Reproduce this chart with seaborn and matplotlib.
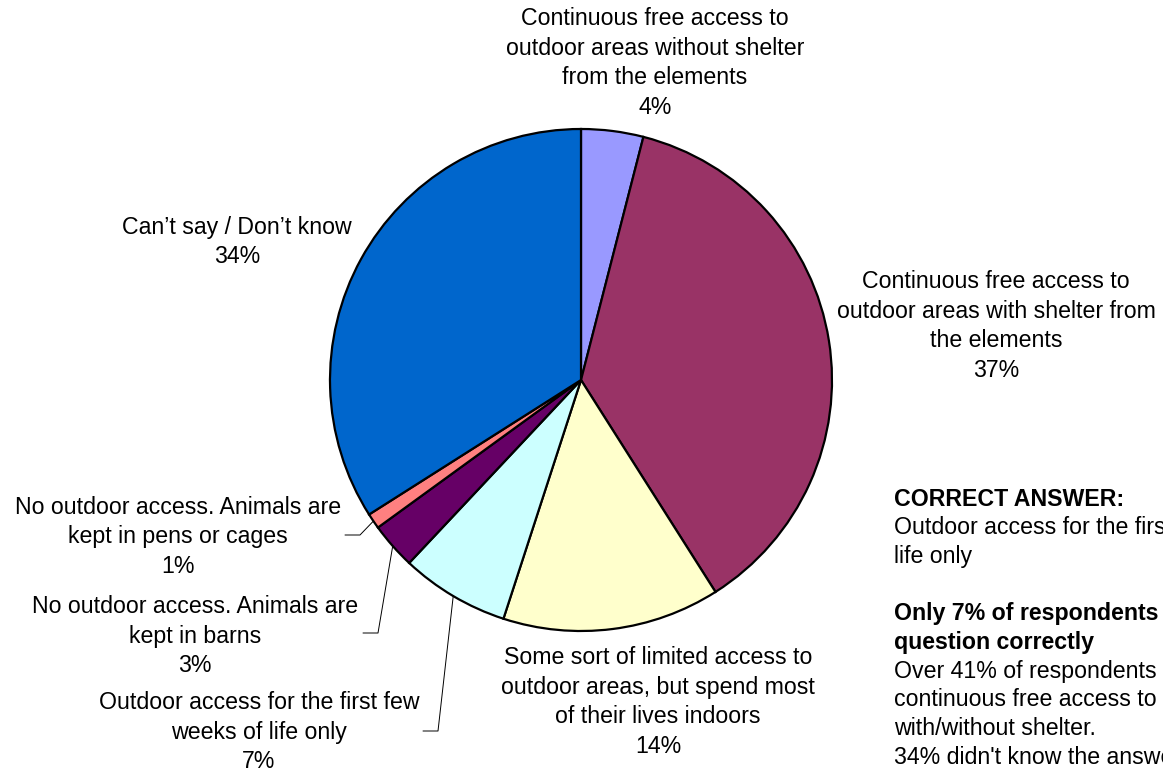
import numpy as np
import seaborn as sns
import matplotlib.pyplot as plt

# answers, in clockwise order starting at 12 o'clock
labels = [
    "Continuous free access to\noutdoor areas without shelter\nfrom the elements",
    "Continuous free access to\noutdoor areas with shelter from\nthe elements",
    "Some sort of limited access to\noutdoor areas, but spend most\nof their lives indoors",
    "Outdoor access for the first few\nweeks of life only",
    "No outdoor access. Animals are\nkept in barns",
    "No outdoor access. Animals are\nkept in pens or cages",
    "Can\u2019t say / Don\u2019t know",
]
shares = [4, 37, 14, 7, 3, 1, 34]
colors = ["#9999FF", "#993366", "#FFFFCC", "#CCFFFF", "#660066", "#FF8080", "#0066CC"]

# label text centres (pixels, measured from top)
label_pos = [(655, 63), (996, 326), (658, 702), (259, 732), (195, 636), (178, 537), (237, 242)]

note_lines = [
    ("CORRECT ANSWER:", "bold"),
    ("Outdoor access for the first few weeks of", "normal"),
    ("life only", "normal"),
    ("", "normal"),
    ("Only 7% of respondents answered the", "bold"),
    ("question correctly", "bold"),
    ("Over 41% of respondents thought animals had", "normal"),
    ("continuous free access to outdoor areas", "normal"),
    ("with/without shelter.", "normal"),
    ("34% didn't know the answer", "normal"),
]

sns.set_style("white")
plt.rcParams['font.family'] = ['Liberation Sans', 'DejaVu Sans']

W, H = 1163, 771
cx, cy, r = 581, 380, 251


def Y(y):
    # pixel row (from top) to data y
    return H - y


fig = plt.figure(figsize=(W / 100, H / 100), dpi=100)
ax = fig.add_axes([0, 0, 1, 1])

ax.pie(shares, colors=colors, startangle=90, counterclock=False,
       center=(cx, Y(cy)), radius=r,
       wedgeprops=dict(edgecolor="black", linewidth=1.6))

ax.set_xlim(0, W)
ax.set_ylim(0, H)
ax.set_aspect('equal')
ax.axis('off')

fs = 16.7
for lab, val, (x, y) in zip(labels, shares, label_pos):
    ax.text(x, Y(y), lab + "\n%d%%" % val, ha='center', va='center',
            fontsize=fs, linespacing=1.37, color='black')

# leader lines for the three small slices
cum = np.cumsum([0] + shares)
elbows = {5: (360, 535, 345), 4: (378, 633, 363), 3: (438, 731, 423)}
for i, (ex, ey, hx) in elbows.items():
    mid = cum[i] + shares[i] / 2
    ang = np.deg2rad(90 - 360 * mid / 100)
    sx = cx + r * np.cos(ang)
    sy = Y(cy) + r * np.sin(ang)
    ax.plot([sx, ex, hx], [sy, Y(ey), Y(ey)], color='black', lw=0.7)

# side note (runs off the right edge, as in the original)
y0 = 499
for txt, wt in note_lines:
    ax.text(894, Y(y0), txt, ha='left', va='center', fontsize=fs,
            fontweight=wt, color='black', clip_on=False)
    y0 += 28.7

fig.savefig('out.png', dpi=100)
